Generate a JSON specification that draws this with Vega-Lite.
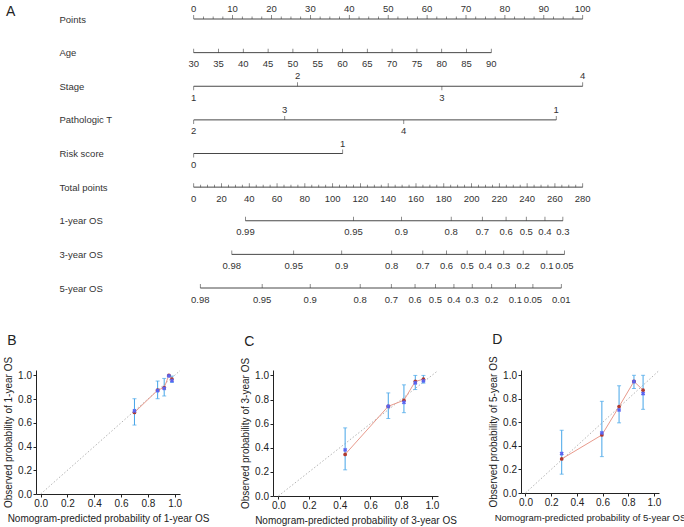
{
"$schema":"https://vega.github.io/schema/vega-lite/v6.json",
"padding":{"left":3,"top":4,"right":0,"bottom":0},
"background":"white",
"datasets":{
"nomo":[
{"r":"Points","p":0,"lab":"0","side":"above"},{"r":"Points","p":10,"lab":"10","side":"above"},{"r":"Points","p":20,"lab":"20","side":"above"},{"r":"Points","p":30,"lab":"30","side":"above"},{"r":"Points","p":40,"lab":"40","side":"above"},{"r":"Points","p":50,"lab":"50","side":"above"},{"r":"Points","p":60,"lab":"60","side":"above"},{"r":"Points","p":70,"lab":"70","side":"above"},{"r":"Points","p":80,"lab":"80","side":"above"},{"r":"Points","p":90,"lab":"90","side":"above"},{"r":"Points","p":100,"lab":"100","side":"above"},
{"r":"Points","p":2.5,"lab":"","side":"above"},{"r":"Points","p":5,"lab":"","side":"above"},{"r":"Points","p":7.5,"lab":"","side":"above"},
{"r":"Points","p":12.5,"lab":"","side":"above"},{"r":"Points","p":15,"lab":"","side":"above"},{"r":"Points","p":17.5,"lab":"","side":"above"},
{"r":"Points","p":22.5,"lab":"","side":"above"},{"r":"Points","p":25,"lab":"","side":"above"},{"r":"Points","p":27.5,"lab":"","side":"above"},
{"r":"Points","p":32.5,"lab":"","side":"above"},{"r":"Points","p":35,"lab":"","side":"above"},{"r":"Points","p":37.5,"lab":"","side":"above"},
{"r":"Points","p":42.5,"lab":"","side":"above"},{"r":"Points","p":45,"lab":"","side":"above"},{"r":"Points","p":47.5,"lab":"","side":"above"},
{"r":"Points","p":52.5,"lab":"","side":"above"},{"r":"Points","p":55,"lab":"","side":"above"},{"r":"Points","p":57.5,"lab":"","side":"above"},
{"r":"Points","p":62.5,"lab":"","side":"above"},{"r":"Points","p":65,"lab":"","side":"above"},{"r":"Points","p":67.5,"lab":"","side":"above"},
{"r":"Points","p":72.5,"lab":"","side":"above"},{"r":"Points","p":75,"lab":"","side":"above"},{"r":"Points","p":77.5,"lab":"","side":"above"},
{"r":"Points","p":82.5,"lab":"","side":"above"},{"r":"Points","p":85,"lab":"","side":"above"},{"r":"Points","p":87.5,"lab":"","side":"above"},
{"r":"Points","p":92.5,"lab":"","side":"above"},{"r":"Points","p":95,"lab":"","side":"above"},{"r":"Points","p":97.5,"lab":"","side":"above"},
{"r":"Age","p":0,"lab":"30","side":"below"},{"r":"Age","p":6.38,"lab":"35","side":"below"},{"r":"Age","p":12.75,"lab":"40","side":"below"},{"r":"Age","p":19.13,"lab":"45","side":"below"},{"r":"Age","p":25.5,"lab":"50","side":"below"},{"r":"Age","p":31.88,"lab":"55","side":"below"},{"r":"Age","p":38.25,"lab":"60","side":"below"},{"r":"Age","p":44.63,"lab":"65","side":"below"},{"r":"Age","p":51.0,"lab":"70","side":"below"},{"r":"Age","p":57.38,"lab":"75","side":"below"},{"r":"Age","p":63.75,"lab":"80","side":"below"},{"r":"Age","p":70.13,"lab":"85","side":"below"},{"r":"Age","p":76.5,"lab":"90","side":"below"},
{"r":"Stage","p":0,"lab":"1","side":"below"},{"r":"Stage","p":26.7,"lab":"2","side":"above"},{"r":"Stage","p":63.8,"lab":"3","side":"below"},{"r":"Stage","p":100,"lab":"4","side":"above"},
{"r":"Pathologic T","p":0,"lab":"2","side":"below"},{"r":"Pathologic T","p":23.4,"lab":"3","side":"above"},{"r":"Pathologic T","p":54.0,"lab":"4","side":"below"},{"r":"Pathologic T","p":93.2,"lab":"1","side":"above"},
{"r":"Risk score","p":0,"lab":"0","side":"below"},{"r":"Risk score","p":38.3,"lab":"1","side":"above"},
{"r":"Total points","p":0,"lab":"0","side":"below"},{"r":"Total points","p":7.143,"lab":"20","side":"below"},{"r":"Total points","p":14.286,"lab":"40","side":"below"},{"r":"Total points","p":21.429,"lab":"60","side":"below"},{"r":"Total points","p":28.571,"lab":"80","side":"below"},{"r":"Total points","p":35.714,"lab":"100","side":"below"},{"r":"Total points","p":42.857,"lab":"120","side":"below"},{"r":"Total points","p":50,"lab":"140","side":"below"},{"r":"Total points","p":57.143,"lab":"160","side":"below"},{"r":"Total points","p":64.286,"lab":"180","side":"below"},{"r":"Total points","p":71.429,"lab":"200","side":"below"},{"r":"Total points","p":78.571,"lab":"220","side":"below"},{"r":"Total points","p":85.714,"lab":"240","side":"below"},{"r":"Total points","p":92.857,"lab":"260","side":"below"},{"r":"Total points","p":100,"lab":"280","side":"below"},
{"r":"Total points","p":1.786,"lab":"","side":"below"},{"r":"Total points","p":3.571,"lab":"","side":"below"},{"r":"Total points","p":5.357,"lab":"","side":"below"},
{"r":"Total points","p":8.929,"lab":"","side":"below"},{"r":"Total points","p":10.714,"lab":"","side":"below"},{"r":"Total points","p":12.5,"lab":"","side":"below"},
{"r":"Total points","p":16.071,"lab":"","side":"below"},{"r":"Total points","p":17.857,"lab":"","side":"below"},{"r":"Total points","p":19.643,"lab":"","side":"below"},
{"r":"Total points","p":23.214,"lab":"","side":"below"},{"r":"Total points","p":25,"lab":"","side":"below"},{"r":"Total points","p":26.786,"lab":"","side":"below"},
{"r":"Total points","p":30.357,"lab":"","side":"below"},{"r":"Total points","p":32.143,"lab":"","side":"below"},{"r":"Total points","p":33.929,"lab":"","side":"below"},
{"r":"Total points","p":37.5,"lab":"","side":"below"},{"r":"Total points","p":39.286,"lab":"","side":"below"},{"r":"Total points","p":41.071,"lab":"","side":"below"},
{"r":"Total points","p":44.643,"lab":"","side":"below"},{"r":"Total points","p":46.429,"lab":"","side":"below"},{"r":"Total points","p":48.214,"lab":"","side":"below"},
{"r":"Total points","p":51.786,"lab":"","side":"below"},{"r":"Total points","p":53.571,"lab":"","side":"below"},{"r":"Total points","p":55.357,"lab":"","side":"below"},
{"r":"Total points","p":58.929,"lab":"","side":"below"},{"r":"Total points","p":60.714,"lab":"","side":"below"},{"r":"Total points","p":62.5,"lab":"","side":"below"},
{"r":"Total points","p":66.071,"lab":"","side":"below"},{"r":"Total points","p":67.857,"lab":"","side":"below"},{"r":"Total points","p":69.643,"lab":"","side":"below"},
{"r":"Total points","p":73.214,"lab":"","side":"below"},{"r":"Total points","p":75,"lab":"","side":"below"},{"r":"Total points","p":76.786,"lab":"","side":"below"},
{"r":"Total points","p":80.357,"lab":"","side":"below"},{"r":"Total points","p":82.143,"lab":"","side":"below"},{"r":"Total points","p":83.929,"lab":"","side":"below"},
{"r":"Total points","p":87.5,"lab":"","side":"below"},{"r":"Total points","p":89.286,"lab":"","side":"below"},{"r":"Total points","p":91.071,"lab":"","side":"below"},
{"r":"Total points","p":94.643,"lab":"","side":"below"},{"r":"Total points","p":96.429,"lab":"","side":"below"},{"r":"Total points","p":98.214,"lab":"","side":"below"},
{"r":"1-year OS","p":13.3,"lab":"0.99","side":"below"},{"r":"1-year OS","p":41.1,"lab":"0.95","side":"below"},{"r":"1-year OS","p":53.4,"lab":"0.9","side":"below"},{"r":"1-year OS","p":66.2,"lab":"0.8","side":"below"},{"r":"1-year OS","p":74.2,"lab":"0.7","side":"below"},{"r":"1-year OS","p":80.3,"lab":"0.6","side":"below"},{"r":"1-year OS","p":85.5,"lab":"0.5","side":"below"},{"r":"1-year OS","p":90.3,"lab":"0.4","side":"below"},{"r":"1-year OS","p":94.9,"lab":"0.3","side":"below"},
{"r":"3-year OS","p":9.8,"lab":"0.98","side":"below"},{"r":"3-year OS","p":25.7,"lab":"0.95","side":"below"},{"r":"3-year OS","p":38.05,"lab":"0.9","side":"below"},{"r":"3-year OS","p":50.9,"lab":"0.8","side":"below"},{"r":"3-year OS","p":58.9,"lab":"0.7","side":"below"},{"r":"3-year OS","p":65.0,"lab":"0.6","side":"below"},{"r":"3-year OS","p":70.3,"lab":"0.5","side":"below"},{"r":"3-year OS","p":75.0,"lab":"0.4","side":"below"},{"r":"3-year OS","p":79.7,"lab":"0.3","side":"below"},{"r":"3-year OS","p":84.7,"lab":"0.2","side":"below"},{"r":"3-year OS","p":90.8,"lab":"0.1","side":"below"},{"r":"3-year OS","p":95.3,"lab":"0.05","side":"below"},
{"r":"5-year OS","p":1.7,"lab":"0.98","side":"below"},{"r":"5-year OS","p":17.6,"lab":"0.95","side":"below"},{"r":"5-year OS","p":29.95,"lab":"0.9","side":"below"},{"r":"5-year OS","p":42.8,"lab":"0.8","side":"below"},{"r":"5-year OS","p":50.8,"lab":"0.7","side":"below"},{"r":"5-year OS","p":56.9,"lab":"0.6","side":"below"},{"r":"5-year OS","p":62.15,"lab":"0.5","side":"below"},{"r":"5-year OS","p":66.9,"lab":"0.4","side":"below"},{"r":"5-year OS","p":71.6,"lab":"0.3","side":"below"},{"r":"5-year OS","p":76.6,"lab":"0.2","side":"below"},{"r":"5-year OS","p":82.7,"lab":"0.1","side":"below"},{"r":"5-year OS","p":87.2,"lab":"0.05","side":"below"},{"r":"5-year OS","p":94.5,"lab":"0.01","side":"below"}
],
"cal":[
{"yr":1,"pred":0.700,"obs":0.687,"corr":0.700,"lo":0.581,"hi":0.803},
{"yr":1,"pred":0.873,"obs":0.875,"corr":0.872,"lo":0.803,"hi":0.952},
{"yr":1,"pred":0.922,"obs":0.897,"corr":0.890,"lo":0.826,"hi":0.974},
{"yr":1,"pred":0.957,"obs":1.000,"corr":0.995,"lo":0.990,"hi":1.000},
{"yr":1,"pred":0.980,"obs":0.969,"corr":0.955,"lo":0.940,"hi":0.994},
{"yr":3,"pred":0.435,"obs":0.345,"corr":0.382,"lo":0.217,"hi":0.565},
{"yr":3,"pred":0.716,"obs":0.744,"corr":0.744,"lo":0.643,"hi":0.855},
{"yr":3,"pred":0.818,"obs":0.794,"corr":0.777,"lo":0.691,"hi":0.922},
{"yr":3,"pred":0.892,"obs":0.950,"corr":0.939,"lo":0.883,"hi":1.000},
{"yr":3,"pred":0.945,"obs":0.969,"corr":0.955,"lo":0.936,"hi":1.000},
{"yr":5,"pred":0.282,"obs":0.289,"corr":0.335,"lo":0.160,"hi":0.533},
{"yr":5,"pred":0.595,"obs":0.493,"corr":0.510,"lo":0.309,"hi":0.779},
{"yr":5,"pred":0.729,"obs":0.734,"corr":0.705,"lo":0.596,"hi":0.911},
{"yr":5,"pred":0.845,"obs":0.948,"corr":0.946,"lo":0.888,"hi":1.000},
{"yr":5,"pred":0.916,"obs":0.874,"corr":0.845,"lo":0.711,"hi":1.000}
]
},
"vconcat":[
{
"width":546.7,"height":269,
"title":{"text":"A","anchor":"start","dx":-30,"dy":15,"baseline":"top","offset":0,"fontSize":14},
"data":{"name":"nomo"},
"encoding":{
"y":{"field":"r","type":"nominal","scale":{"type":"point","padding":0,"domain":["Points","Age","Stage","Pathologic T","Risk score","Total points","1-year OS","3-year OS","5-year OS"]},
"axis":{"title":null,"domain":false,"ticks":false,"labelAlign":"left","labelBaseline":"middle","labelPadding":-23,"labelFontSize":9.5,"labelColor":"#333"}}
},
"layer":[
{"transform":[{"aggregate":[{"op":"min","field":"p","as":"lo"},{"op":"max","field":"p","as":"hi"}],"groupby":["r"]}],
"mark":{"type":"rule","color":"#333","strokeWidth":0.9},
"encoding":{"x":{"field":"lo","type":"quantitative","scale":{"domain":[-40.54,100],"nice":false,"zero":false},"axis":null},"x2":{"field":"hi"}}},
{"transform":[{"filter":"datum.lab != '' && !(datum.side == 'below' && indexof(['Stage','Pathologic T','Risk score'], datum.r) >= 0)"}],
"mark":{"type":"tick","orient":"vertical","size":4,"thickness":0.8,"yOffset":-2,"color":"#333"},
"encoding":{"x":{"field":"p","type":"quantitative"}}},
{"transform":[{"filter":"datum.lab != '' && datum.side == 'below' && indexof(['Stage','Pathologic T','Risk score'], datum.r) >= 0"}],
"mark":{"type":"tick","orient":"vertical","size":4,"thickness":0.8,"yOffset":2,"color":"#333"},
"encoding":{"x":{"field":"p","type":"quantitative"}}},
{"transform":[{"filter":"datum.lab == ''"}],
"mark":{"type":"tick","orient":"vertical","size":2.5,"thickness":0.8,"yOffset":-1.25,"color":"#333"},
"encoding":{"x":{"field":"p","type":"quantitative"}}},
{"transform":[{"filter":"datum.lab != '' && datum.side == 'above'"}],
"mark":{"type":"text","dy":-10,"baseline":"middle","fontSize":9.5,"color":"#333"},
"encoding":{"x":{"field":"p","type":"quantitative"},"text":{"field":"lab"}}},
{"transform":[{"filter":"datum.lab != '' && datum.side == 'below'"}],
"mark":{"type":"text","dy":11.5,"baseline":"middle","fontSize":9.5,"color":"#333"},
"encoding":{"x":{"field":"p","type":"quantitative"},"text":{"field":"lab"}}}
]
},
{
"spacing":31,
"hconcat":[
{
"width":144,"height":124,
"title":{"text":"B","offset":8.5,"dx":3.6},
"data":{"name":"cal"},
"transform":[{"filter":"datum.yr == 1"}],
"encoding":{
"x":{"type":"quantitative","scale":{"domain":[-0.035,1.04],"nice":false,"zero":false},"title":"Nomogram-predicted probability of 1-year OS","axis":{"values":[0,0.2,0.4,0.6,0.8,1],"format":".1f"}},
"y":{"type":"quantitative","scale":{"domain":[0,1.045],"nice":false,"zero":false},"title":"Observed probability of 1-year OS","axis":{"values":[0,0.2,0.4,0.6,0.8,1],"format":".1f"}}
},
"layer":[
{"data":{"values":[{}]},"mark":{"type":"rule","color":"#aaaaaa","strokeDash":[1.5,2],"strokeWidth":0.9},
"encoding":{"x":{"datum":0},"y":{"datum":0},"x2":{"datum":1.04},"y2":{"datum":1.04}}},
{"mark":{"type":"errorbar","ticks":{"size":4},"color":"#45a5e8","thickness":1},
"encoding":{"x":{"field":"pred"},"y":{"field":"lo"},"y2":{"field":"hi"}}},
{"mark":{"type":"line","color":"#e89a8c","strokeWidth":1},
"encoding":{"x":{"field":"pred"},"y":{"field":"obs"}}},
{"mark":{"type":"point","filled":true,"size":14,"color":"#b0392f","opacity":1},
"encoding":{"x":{"field":"pred"},"y":{"field":"obs"}}},
{"mark":{"type":"point","shape":"cross","angle":45,"filled":true,"size":18,"color":"#5a64f0","opacity":1},
"encoding":{"x":{"field":"pred"},"y":{"field":"corr"}}}
]
},
{
"width":165,"height":126,
"title":{"text":"C","offset":8.5,"dx":3.6},
"data":{"name":"cal"},
"transform":[{"filter":"datum.yr == 3"}],
"encoding":{
"x":{"type":"quantitative","scale":{"domain":[-0.035,1.04],"nice":false,"zero":false},"title":"Nomogram-predicted probability of 3-year OS","axis":{"values":[0,0.2,0.4,0.6,0.8,1],"format":".1f"}},
"y":{"type":"quantitative","scale":{"domain":[0,1.045],"nice":false,"zero":false},"title":"Observed probability of 3-year OS","axis":{"values":[0,0.2,0.4,0.6,0.8,1],"format":".1f"}}
},
"layer":[
{"data":{"values":[{}]},"mark":{"type":"rule","color":"#aaaaaa","strokeDash":[1.5,2],"strokeWidth":0.9},
"encoding":{"x":{"datum":0},"y":{"datum":0},"x2":{"datum":1.04},"y2":{"datum":1.04}}},
{"mark":{"type":"errorbar","ticks":{"size":4},"color":"#45a5e8","thickness":1},
"encoding":{"x":{"field":"pred"},"y":{"field":"lo"},"y2":{"field":"hi"}}},
{"mark":{"type":"line","color":"#e89a8c","strokeWidth":1},
"encoding":{"x":{"field":"pred"},"y":{"field":"obs"}}},
{"mark":{"type":"point","filled":true,"size":14,"color":"#b0392f","opacity":1},
"encoding":{"x":{"field":"pred"},"y":{"field":"obs"}}},
{"mark":{"type":"point","shape":"cross","angle":45,"filled":true,"size":18,"color":"#5a64f0","opacity":1},
"encoding":{"x":{"field":"pred"},"y":{"field":"corr"}}}
]
},
{
"width":138,"height":123,
"title":{"text":"D","offset":8.5,"dx":3.6},
"data":{"name":"cal"},
"transform":[{"filter":"datum.yr == 5"}],
"encoding":{
"x":{"type":"quantitative","scale":{"domain":[-0.035,1.04],"nice":false,"zero":false},"title":"Nomogram-predicted probability of 5-year OS","axis":{"values":[0,0.2,0.4,0.6,0.8,1],"format":".1f","titleFontSize":9.5}},
"y":{"type":"quantitative","scale":{"domain":[0,1.045],"nice":false,"zero":false},"title":"Observed probability of 5-year OS","axis":{"values":[0,0.2,0.4,0.6,0.8,1],"format":".1f"}}
},
"layer":[
{"data":{"values":[{}]},"mark":{"type":"rule","color":"#aaaaaa","strokeDash":[1.5,2],"strokeWidth":0.9},
"encoding":{"x":{"datum":0},"y":{"datum":0},"x2":{"datum":1.04},"y2":{"datum":1.04}}},
{"mark":{"type":"errorbar","ticks":{"size":4},"color":"#45a5e8","thickness":1},
"encoding":{"x":{"field":"pred"},"y":{"field":"lo"},"y2":{"field":"hi"}}},
{"mark":{"type":"line","color":"#e89a8c","strokeWidth":1},
"encoding":{"x":{"field":"pred"},"y":{"field":"obs"}}},
{"mark":{"type":"point","filled":true,"size":14,"color":"#b0392f","opacity":1},
"encoding":{"x":{"field":"pred"},"y":{"field":"obs"}}},
{"mark":{"type":"point","shape":"cross","angle":45,"filled":true,"size":18,"color":"#5a64f0","opacity":1},
"encoding":{"x":{"field":"pred"},"y":{"field":"corr"}}}
]
}
]
}
],
"spacing":29,
"config":{
"font":"Liberation Sans",
"view":{"stroke":null},
"axis":{"labelFontSize":10,"titleFontSize":10,"titleFontWeight":"normal","labelColor":"#222","titleColor":"#222","domainColor":"#222","tickColor":"#222","tickSize":3,"labelPadding":1.5,"grid":false,"labelOverlap":false,"labelFont":"Liberation Sans","titleFont":"Liberation Sans"},
"axisX":{"titlePadding":5},
"axisY":{"titlePadding":4},
"title":{"fontSize":14,"fontWeight":"normal","anchor":"start","font":"Liberation Sans","color":"#222"}
}
}
